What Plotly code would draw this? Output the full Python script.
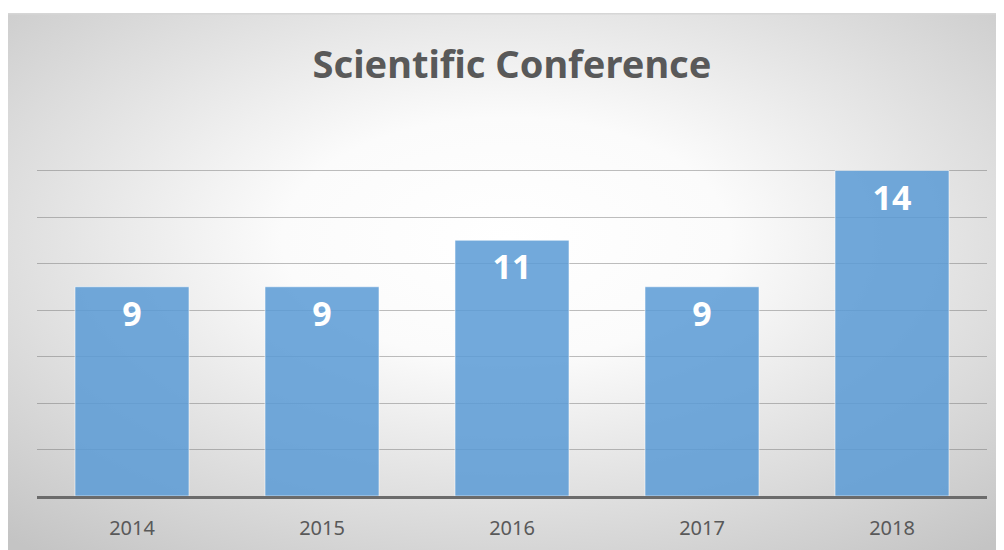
import base64
import plotly.graph_objects as go

years = ["2014", "2015", "2016", "2017", "2018"]
counts = [9, 9, 11, 9, 14]
title_text = "Scientific Conference"

# page body has an 8px margin; figure is sized so it ends at the window edge
W, H = 996, 542
ML, MR, MT, MB = 29, 17, 116, 54
PW, PH = W - ML - MR, H - MT - MB

# radial gradient background (as SVG image)
bw, bh = 996, 537
svg = f'''<svg xmlns="http://www.w3.org/2000/svg" width="{bw}" height="{bh}" viewBox="0 0 {bw} {bh}" preserveAspectRatio="none">
<defs><radialGradient id="g" cx="0.5" cy="0.42" r="0.75">
<stop offset="0" stop-color="#ffffff"/><stop offset="0.3" stop-color="#fbfbfb"/><stop offset="1" stop-color="#c4c4c4"/>
</radialGradient></defs>
<rect x="0" y="0" width="{bw}" height="{bh}" fill="url(#g)"/>
<rect x="0" y="0" width="{bw}" height="1.5" fill="#d6d6d6"/>
</svg>'''
src = "data:image/svg+xml;base64," + base64.b64encode(svg.encode()).decode()

def px_to_paper_x(px):
    return (px - ML) / PW

def px_to_paper_y(py):
    return (H - MB - py) / PH

fig = go.Figure()
fig.add_trace(go.Bar(
    x=years, y=counts,
    text=[str(v) for v in counts], texttemplate="<b>%{text}</b>",
    textposition="inside", insidetextanchor="end", textangle=0,
    constraintext="none",
    insidetextfont=dict(family="Noto Sans", size=34, color="white"),
    marker=dict(color="rgba(91,155,213,0.86)", line=dict(color="rgba(255,255,255,0.55)", width=1)),
))

fig.add_layout_image(dict(
    source=src, xref="paper", yref="paper",
    x=px_to_paper_x(0), y=px_to_paper_y(5),
    sizex=px_to_paper_x(W) - px_to_paper_x(0),
    sizey=px_to_paper_y(5) - px_to_paper_y(H),
    xanchor="left", yanchor="top", sizing="stretch", layer="below",
))

fig.update_layout(
    width=W, height=H,
    margin=dict(l=ML, r=MR, t=MT, b=MB, autoexpand=False),
    paper_bgcolor="white", plot_bgcolor="rgba(0,0,0,0)",
    showlegend=False, bargap=0.4,
    title=dict(text=f"<b>{title_text}</b>", x=0.5, xref="paper", xanchor="center",
               y=1 - 57 / H, yanchor="middle", automargin=False,
               font=dict(family="Noto Sans", size=38, color="#595959")),
)
fig.update_xaxes(type="category", range=[-0.5, len(years) - 0.5],
                 showline=True, linecolor="#6b6b6b", linewidth=3,
                 ticks="outside", ticklen=12, tickcolor="rgba(0,0,0,0)",
                 tickfont=dict(family="Noto Sans", size=20, color="#595959"),
                 showgrid=False)
fig.update_yaxes(type="linear", range=[0, 16], dtick=2, showticklabels=False, showgrid=True,
                 gridcolor="rgba(110,110,110,0.45)", gridwidth=1, zeroline=False)

fig.write_html("out.html")
